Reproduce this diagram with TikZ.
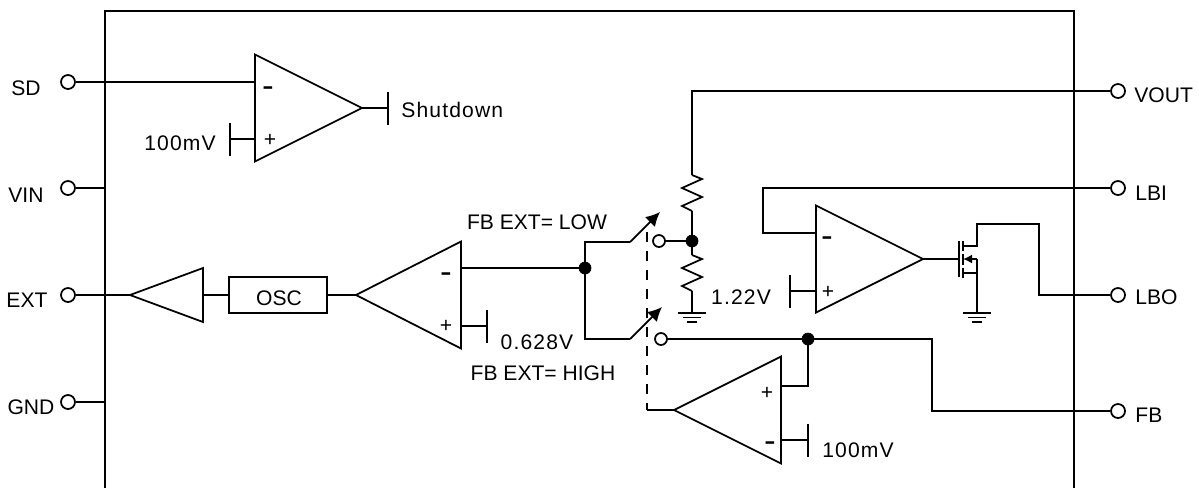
\documentclass[tikz,border=0pt]{standalone}
\usepackage{fontspec}
\setmainfont{Liberation Sans}
\newfontfamily\widefont[LetterSpace=5.5]{Liberation Sans}
\usetikzlibrary{shapes.geometric, arrows.meta}
\newcommand{\minussign}{\scalebox{1.6}[1]{\bfseries -}}
\newcommand{\groundsym}[1]{
    \draw [wire] (#1) ++(-14,0) -- ++(28,0);
    \draw [wire] (#1) ++(-9,4.5) -- ++(18,0);
    \draw [wire] (#1) ++(-5,9) -- ++(10,0);
}
\tikzset{
    wire/.style = {line width = 1pt, line join = miter},
    pin/.style = {shape = circle, draw, line width = 1pt, fill = white, inner sep = 0pt, minimum size = 0.28cm},
    junction/.style = {shape = circle, draw, fill = black, inner sep = 0pt, minimum size = 0.24cm},
    opamp/.style = {shape = isosceles triangle, draw, line width = 1pt, isosceles triangle stretches, inner sep = 0pt, outer sep = 0pt, anchor = apex, minimum width = 2.14cm, minimum height = 2.14cm},
    buffer/.style = {opamp, minimum width = 1.08cm, minimum height = 1.46cm},
    label/.style = {inner sep = 0pt, font = \fontsize{12}{14}\selectfont},
    value/.style = {label, font = \fontsize{12}{14}\selectfont\widefont}
}
\begin{document}
\begin{tikzpicture}[x = 0.02cm, y = -0.02cm]
    \useasboundingbox (0,0) rectangle (1199,488);
    % package outline, open at the bottom
    \coordinate (boxbl) at (105,488);
    \coordinate (boxtl) at (105,11);
    \coordinate (boxtr) at (1074,11);
    \coordinate (boxbr) at (1074,488);
    \draw [wire] (boxbl) -- (boxtl) -- (boxtr) -- (boxbr);
    % pins
    \node (pinsd) [pin] at (68,82) {};
    \node (pinvin) [pin] at (68,188) {};
    \node (pinext) [pin] at (68,295) {};
    \node (pingnd) [pin] at (68,402) {};
    \node (pinvout) [pin] at (1118,91) {};
    \node (pinlbi) [pin] at (1118,188) {};
    \node (pinlbo) [pin] at (1118,295) {};
    \node (pinfb) [pin] at (1118,411) {};
    \node (lblsd) [label] at (26,88) {SD};
    \node (lblvin) [label] at (26,195) {VIN};
    \node (lblext) [label] at (27,300) {EXT};
    \node (lblgnd) [label] at (31,407) {GND};
    \node (lblvout) [label, anchor = west] at (1134,95) {VOUT};
    \node (lbllbi) [label, anchor = west] at (1135,193) {LBI};
    \node (lbllbo) [label, anchor = west] at (1135,297) {LBO};
    \node (lblfb) [label, anchor = west] at (1135,415) {FB};
    \coordinate (vinend) at (105,188);
    \coordinate (gndend) at (105,402);
    \draw [wire] (pinvin) -- (vinend);
    \draw [wire] (pingnd) -- (gndend);
    % shutdown comparator
    \node (cmpsd) [opamp] at (362,108) {};
    \coordinate (sdneg) at (255,82);
    \coordinate (sdpos) at (255,139);
    \coordinate (sdref) at (230,139);
    \coordinate (sdout) at (388,108);
    \draw [wire] (pinsd) -- (sdneg);
    \draw [wire] (sdpos) -- (sdref);
    \draw [wire] (sdref) ++(0,-16.5) -- ++(0,33);
    \draw [wire] (cmpsd.apex) -- (sdout);
    \draw [wire] (sdout) ++(0,-16.5) -- ++(0,33);
    \node (sdminus) [label] at (268,90) {\minussign};
    \node (sdplus) [label] at (270,140) {+};
    \node (sdvolt) [value] at (180,143) {100mV};
    \node (sdtext) [value, anchor = west] at (401,110) {Shutdown};
    % driver chain
    \node (drv) [buffer, shape border rotate = 180] at (130,295) {};
    \node (osc) [draw, wire, minimum width = 1.96cm, minimum height = 0.72cm, inner sep = 0pt, outer sep = 0pt] at (278,295) {};
    \node (osctext) [label] at (279,298) {OSC};
    \node (cmpext) [opamp, shape border rotate = 180, minimum height = 2.1cm] at (356,295) {};
    \draw [wire] (pinext) -- (drv.apex);
    \draw [wire] (drv.lower side) -- (osc.west);
    \draw [wire] (osc.east) -- (cmpext.apex);
    \node (extminus) [label] at (446,276) {\minussign};
    \node (extplus) [label] at (446,326) {+};
    \coordinate (extneg) at (461,268);
    \coordinate (extpos) at (461,326);
    \coordinate (extref) at (487,326);
    \draw [wire] (extpos) -- (extref);
    \draw [wire] (extref) ++(0,-16.5) -- ++(0,33);
    \node (extvolt) [value] at (537,342) {0.628V};
    % selector switches
    \node (swdot) [junction] at (585,268) {};
    \coordinate (swup) at (585,242);
    \coordinate (swlow) at (585,339);
    \coordinate (swupa) at (630,242);
    \coordinate (swlowa) at (630,339);
    \coordinate (swupb) at (660,212);
    \coordinate (swlowb) at (662,307);
    \draw [wire] (extneg) -- (swdot);
    \draw [wire] (swdot) -- (swup) -- (swupa);
    \draw [wire, -{Latex[length=2.8mm, width=2.8mm]}] (swupa) -- (swupb);
    \draw [wire] (swdot) -- (swlow) -- (swlowa);
    \draw [wire, -{Latex[length=2.8mm, width=2.8mm]}] (swlowa) -- (swlowb);
    \node (lbllow) [label] at (537,222) {FB EXT= LOW};
    \node (lblhigh) [label] at (543,373) {FB EXT= HIGH};
    \node (swupin) [pin, minimum size = 0.24cm] at (659,241) {};
    \node (swlowin) [pin, minimum size = 0.24cm] at (661,339) {};
    % output divider
    \node (divdot) [junction] at (692,241) {};
    \coordinate (vouta) at (692,91);
    \coordinate (rtop) at (692,175);
    \coordinate (rmid) at (692,211);
    \coordinate (rlow) at (692,255);
    \coordinate (rbot) at (692,291);
    \coordinate (gnda) at (692,313);
    \draw [wire] (pinvout) -- (vouta) -- (rtop);
    \draw [wire] (rtop) -- ++(10,4) -- ++(-20,9) -- ++(20,9) -- ++(-20,9) -- (rmid);
    \draw [wire] (rmid) -- (divdot);
    \draw [wire] (divdot) -- (rlow);
    \draw [wire] (rlow) -- ++(10,4) -- ++(-20,9) -- ++(20,9) -- ++(-20,9) -- (rbot);
    \draw [wire] (rbot) -- (gnda);
    \groundsym{gnda}
    \draw [wire] (swupin) -- (divdot);
    \node (divvolt) [value] at (741,297) {1.22V};
    % low battery comparator
    \node (cmplbi) [opamp] at (923,259) {};
    \coordinate (lbia) at (763,188);
    \coordinate (lbib) at (763,233);
    \coordinate (lbineg) at (816,233);
    \coordinate (lbipos) at (816,291);
    \coordinate (lbiref) at (790,291);
    \draw [wire] (pinlbi) -- (lbia) -- (lbib) -- (lbineg);
    \draw [wire] (lbipos) -- (lbiref);
    \draw [wire] (lbiref) ++(0,-16.5) -- ++(0,33);
    \node (lbiminus) [label] at (827,240) {\minussign};
    \node (lbiplus) [label] at (828,292) {+};
    % output transistor
    \coordinate (gate) at (959,259);
    \coordinate (drain) at (977,246);
    \coordinate (draina) at (977,224);
    \coordinate (drainb) at (1039,224);
    \coordinate (drainc) at (1039,295);
    \coordinate (body) at (977,259);
    \coordinate (source) at (977,273);
    \coordinate (gndb) at (977,313);
    \draw [wire] (cmplbi.apex) -- (gate);
    \draw [wire] (gate) ++(0,-18) -- ++(0,36);
    \draw [wire] (963,241) -- (963,251);
    \draw [wire] (963,254) -- (963,265);
    \draw [wire] (963,268) -- (963,278);
    \draw [wire] (963,246) -- (drain) -- (draina) -- (drainb) -- (drainc) -- (pinlbo);
    \draw [wire, -{Latex[length=1.8mm, width=1.8mm]}] (body) -- (963,259);
    \draw [wire] (963,273) -- (source);
    \draw [wire] (body) -- (source) -- (gndb);
    \groundsym{gndb}
    % feedback comparator
    \node (fbdot) [junction] at (808,339) {};
    \node (cmpfb) [opamp, shape border rotate = 180] at (674,410) {};
    \coordinate (fba) at (932,339);
    \coordinate (fbb) at (932,411);
    \coordinate (fbpos) at (781,386);
    \coordinate (fbposa) at (808,386);
    \coordinate (fbneg) at (781,440);
    \coordinate (fbref) at (808,440);
    \draw [wire] (swlowin) -- (fbdot);
    \draw [wire] (fbdot) -- (fba) -- (fbb) -- (pinfb);
    \draw [wire] (fbpos) -- (fbposa) -- (fbdot);
    \draw [wire] (fbneg) -- (fbref);
    \draw [wire] (fbref) ++(0,-16.5) -- ++(0,33);
    \node (fbplus) [label] at (767,393) {+};
    \node (fbminus) [label] at (770,445) {\minussign};
    \node (fbvolt) [value] at (858,450) {100mV};
    % dashed link between the switches
    \coordinate (linka) at (647,232);
    \coordinate (linkb) at (647,410);
    \draw [wire, dash pattern = on 5.7pt off 5.1pt] (linka) -- (linkb);
    \draw [wire] (linkb) -- (cmpfb.apex);
\end{tikzpicture}
\end{document}
